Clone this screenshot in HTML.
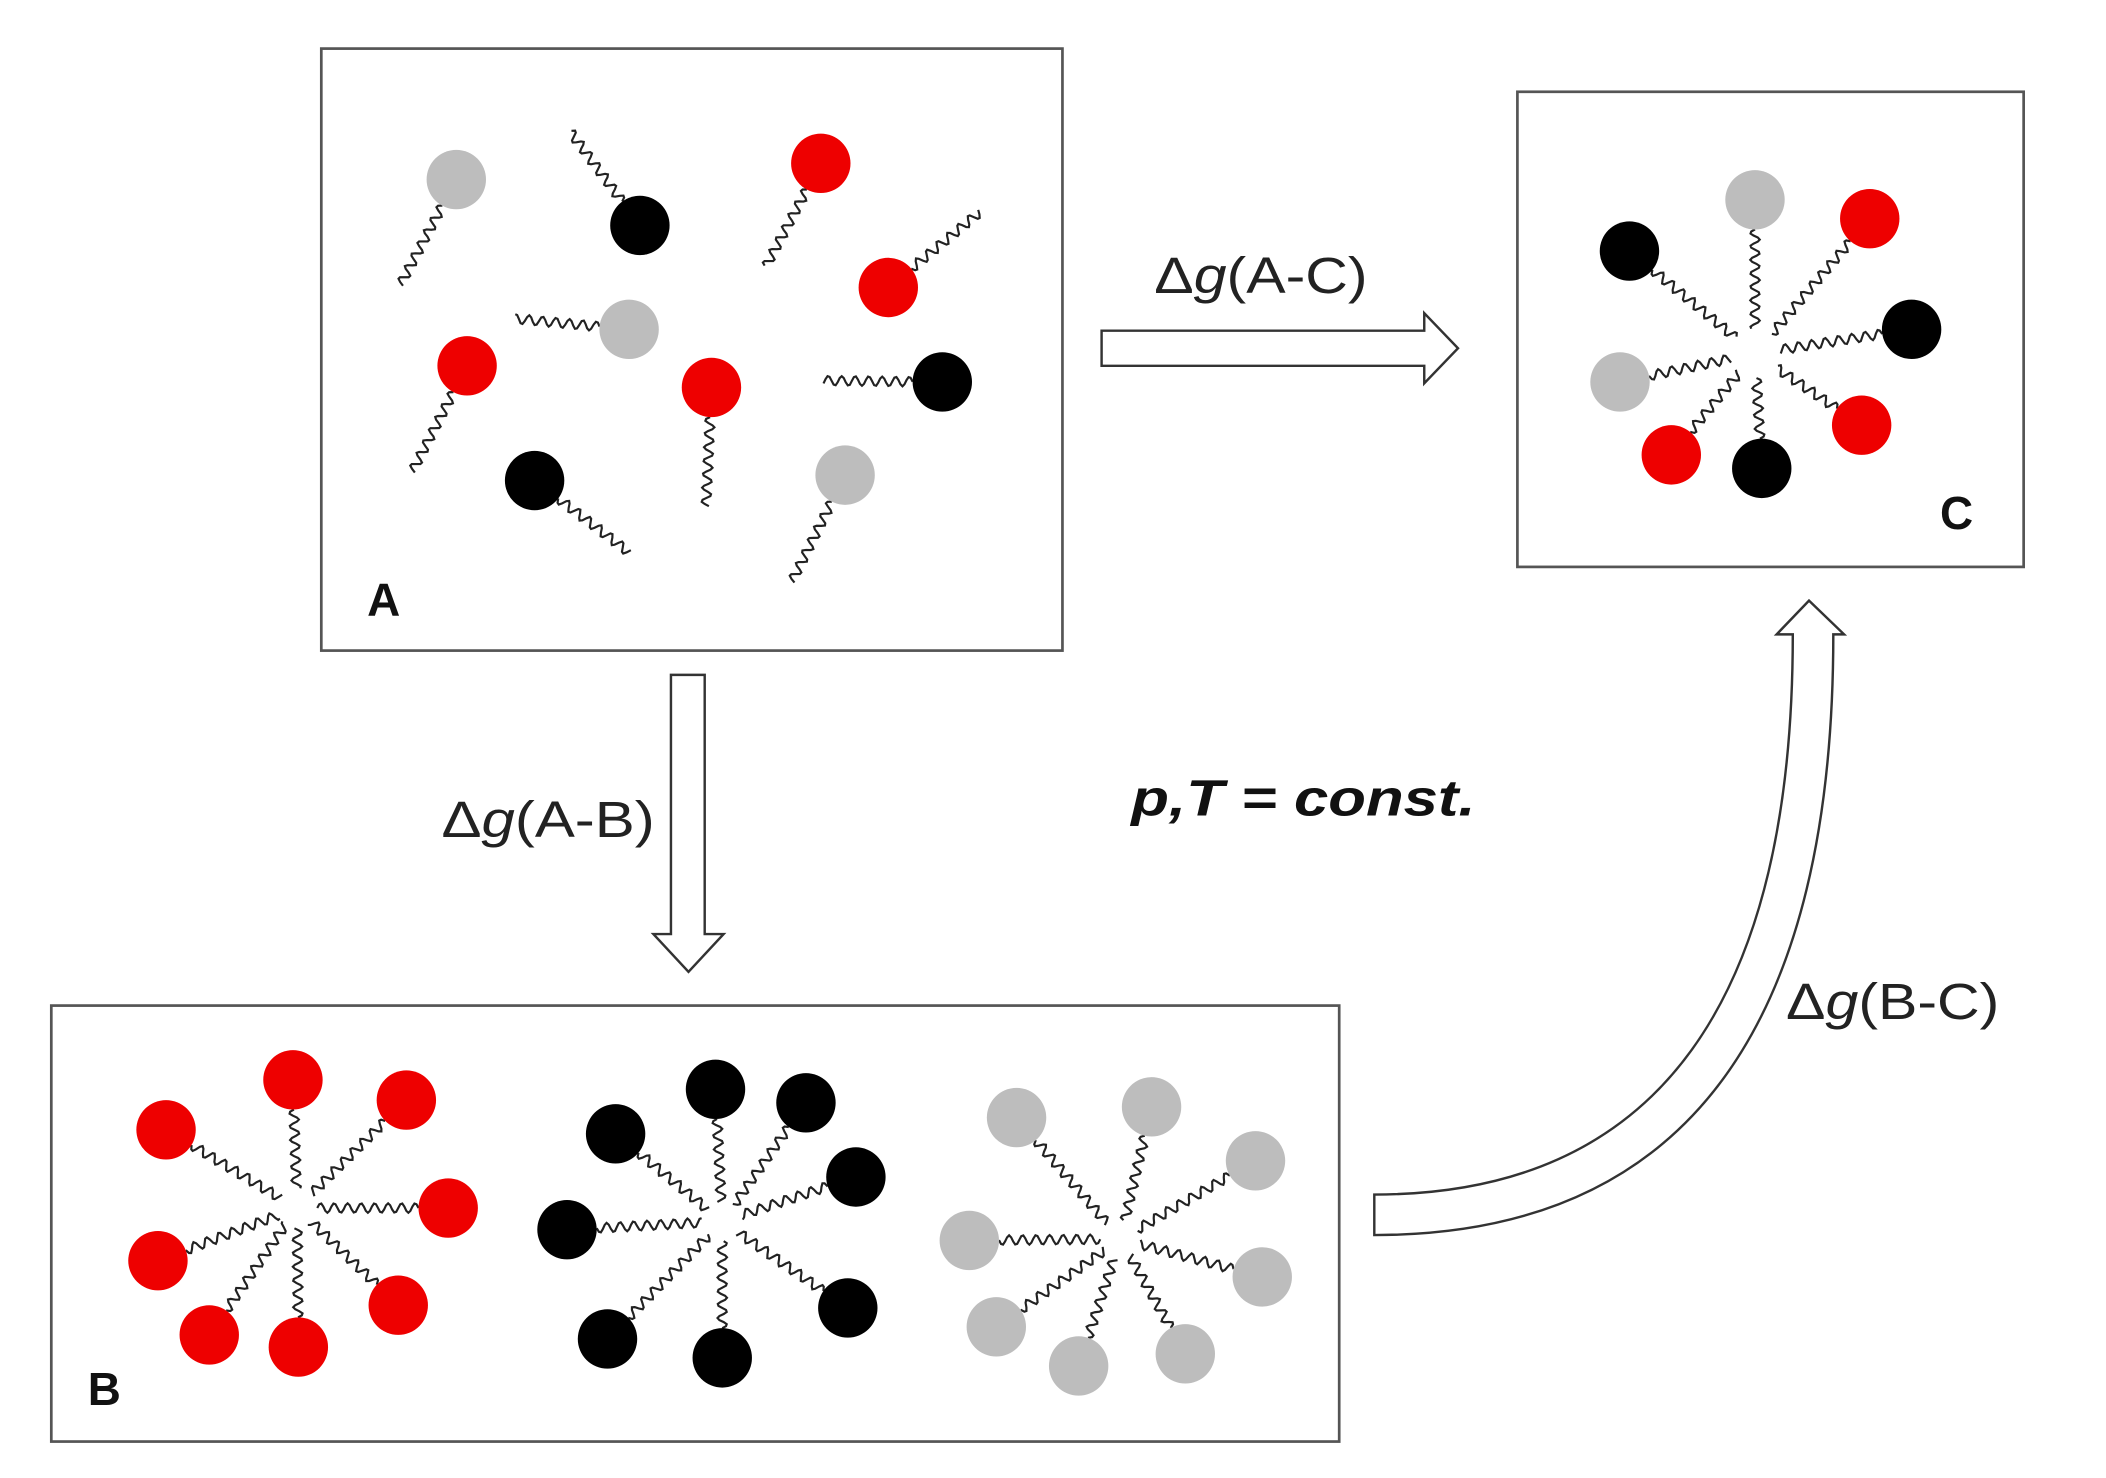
<!DOCTYPE html>
<html><head><meta charset="utf-8"><style>
html,body{margin:0;padding:0;background:#fff;}
svg{display:block;}
text{font-family:"Liberation Sans",Arial,sans-serif;}
</style></head><body>
<svg id="s" width="2106" height="1478" viewBox="0 0 1560 1095" preserveAspectRatio="none" xmlns="http://www.w3.org/2000/svg">
<rect x="0" y="0" width="1560" height="1095" fill="#fff"/>
<g fill="#fff" stroke="#555" stroke-width="2">
<rect x="238" y="36" width="549" height="446"/>
<rect x="1124" y="68" width="375" height="352"/>
<rect x="38" y="745" width="954" height="323"/>
</g>
<g fill="#fff" stroke="#333" stroke-width="1.8">
<path d="M816,245 L1055,245 L1055,232 L1080,258 L1055,284 L1055,271 L816,271 Z"/>
<path d="M497,500 L522,500 L522,692 L536,692 L510,720 L484,692 L497,692 Z"/>
<path d="M1018,915 C1250,915 1358,760 1358,470 L1366,470 L1340,445 L1316,470 L1328,470 C1328,740 1230,885 1018,885 Z"/>
</g>
<g id="mol"></g>
<text x="855" y="217" font-size="38" fill="#222" textLength="158" lengthAdjust="spacingAndGlyphs">Δ<tspan font-style="italic">g</tspan>(A-C)</text>
<text x="327" y="620" font-size="38" fill="#222" textLength="158" lengthAdjust="spacingAndGlyphs">Δ<tspan font-style="italic">g</tspan>(A-B)</text>
<text x="1323" y="755" font-size="38" fill="#222" textLength="158" lengthAdjust="spacingAndGlyphs">Δ<tspan font-style="italic">g</tspan>(B-C)</text>
<text x="838" y="604" font-size="38" font-weight="bold" font-style="italic" fill="#111" textLength="255" lengthAdjust="spacingAndGlyphs">p,T = const.</text>
<text x="272" y="456" font-size="34" font-weight="bold" fill="#111">A</text>
<text x="1437" y="392" font-size="34" font-weight="bold" fill="#111">C</text>
<text x="65" y="1041" font-size="34" font-weight="bold" fill="#111">B</text>
</svg>
<script>
var C={r:"#ee0000",k:"#000",g:"#bdbdbd"};
var g=document.getElementById("mol"),out="";
function mol(c,hx,hy,tx,ty,r){r=r||22;
 var dx=tx-hx,dy=ty-hy,L=Math.sqrt(dx*dx+dy*dy),ux=dx/L,uy=dy/L,px=-uy,py=ux;
 var d="";
 for(var s=r;s<=L;s+=1.5){var a=3.5*Math.sin((s-r)*2*Math.PI/10);var x=hx+ux*s+px*a,y=hy+uy*s+py*a;d+=(d?"L":"M")+x.toFixed(1)+","+y.toFixed(1);}
 out+='<path d="'+d+'" fill="none" stroke="#222" stroke-width="1.6"/>';
 out+='<circle cx="'+hx+'" cy="'+hy+'" r="'+r+'" fill="'+C[c]+'"/>';
}
var A=[["g",338,133,296,212],["k",474,167,422,97],["r",608,121,567,198],["r",658,213,726,157],["g",466,244,380,236],["r",346,271,305,350],["r",527,287,523,375],["k",698,283,610,282],["k",396,356,467,410],["g",626,352,586,432]];
A.forEach(function(m){mol(m[0],m[1],m[2],m[3],m[4]);});
function mic(cx,cy,list,ri){list.forEach(function(m){var dx=cx-m[1],dy=cy-m[2],L=Math.sqrt(dx*dx+dy*dy);mol(m[0],m[1],m[2],m[1]+dx*(L-ri)/L,m[2]+dy*(L-ri)/L);});}
mic(1300,262,[["k",1207,186],["g",1300,148],["r",1385,162],["k",1416,244],["r",1379,315],["k",1305,347],["r",1238,337],["g",1200,283]],18);
mic(220,895,[["r",123,837],["r",217,800],["r",301,815],["r",332,895],["r",295,967],["r",221,998],["r",155,989],["r",117,934]],14);
mic(535,905,[["k",456,840],["k",530,807],["k",597,817],["k",634,872],["k",628,969],["k",535,1006],["k",450,992],["k",420,911]],14);
mic(830,918,[["g",753,828],["g",853,820],["g",930,860],["g",935,946],["g",878,1003],["g",799,1012],["g",738,983],["g",718,919]],14);
g.innerHTML=out;
</script>
</body></html>
